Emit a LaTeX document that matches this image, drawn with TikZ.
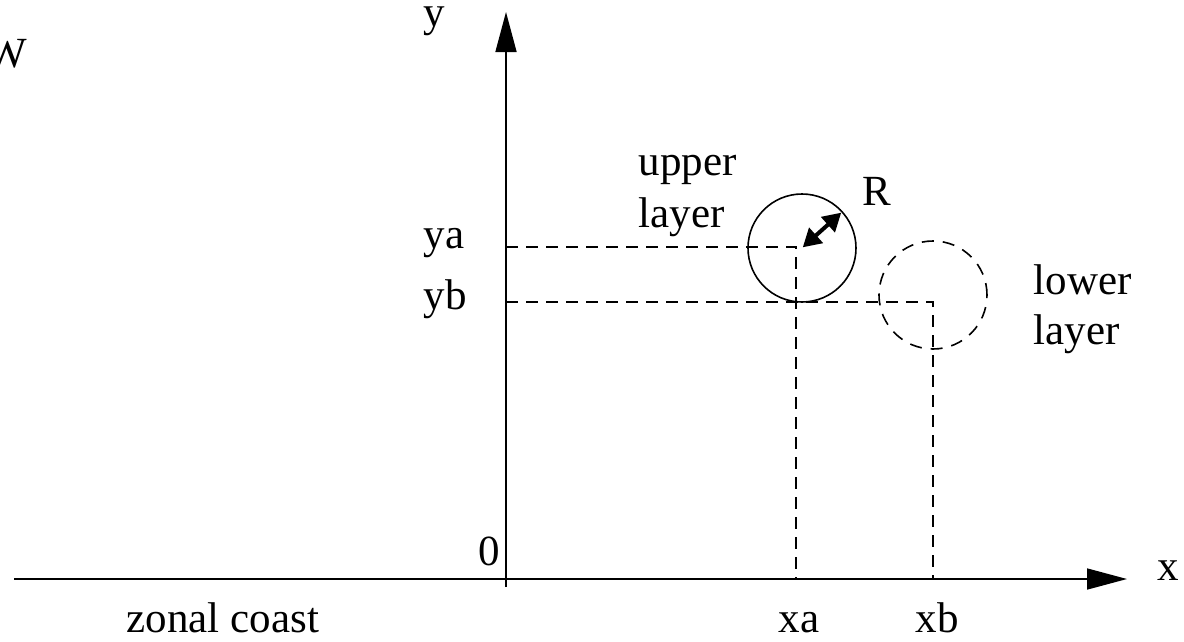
\documentclass[tikz,border=0pt]{standalone}
\usepackage{fontspec}
\setmainfont{Liberation Serif}
\usetikzlibrary{arrows.meta}
\begin{document}
\begin{tikzpicture}[x=1pt,y=-1pt, line width=1.6pt,
  lbl/.style={inner sep=0pt, anchor=base west, font=\fontsize{43}{50}\selectfont},
  axis/.style={-{Triangle[length=40pt,width=21pt]}},
  guide/.style={dash pattern=on 12pt off 8pt},
  ring/.style={circle, draw, inner sep=0pt, minimum size=108pt}]
\useasboundingbox (0,0) rectangle (1184,641);
% axes
\coordinate (xs) at (14,579);
\coordinate (xe) at (1127,579);
\coordinate (ys) at (506,587);
\coordinate (ye) at (506,12);
\draw[axis] (xs) -- (xe);
\draw[axis] (ys) -- (ye);
% guide lines
\coordinate (ya0) at (506,247);
\coordinate (pa) at (796,247);
\coordinate (xa0) at (796,579);
\coordinate (yb0) at (506,302);
\coordinate (pb) at (933,302);
\coordinate (xb0) at (933,579);
\draw[guide] (ya0) -- (pa) -- (xa0);
\draw[guide] (yb0) -- (pb) -- (xb0);
% circles
\node[ring] (up) at (802,248) {};
\node[ring, dash pattern=on 12pt off 9pt] (low) at (933,295) {};
\draw[{Triangle[length=18pt,width=20pt]}-{Triangle[length=18pt,width=20pt]}, line width=4pt, shorten <=1pt, shorten >=2pt] (up.center) -- (up.42);
% labels
\node[lbl] (ylab) at (423,26) {y};
\node[lbl, anchor=base east] (wlab) at (28,67) {W};
\node[lbl] (up1) at (638,175) {upper};
\node[lbl] (up2) at (638,227) {layer};
\node[lbl] (rlab) at (862,205) {R};
\node[lbl] (yalab) at (423,248) {ya};
\node[lbl] (yblab) at (423,309) {yb};
\node[lbl] (lo1) at (1033,294) {lower};
\node[lbl] (lo2) at (1033,344) {layer};
\node[lbl] (zero) at (478,565) {0};
\node[lbl] (xlab) at (1157,580) {x};
\node[lbl] (zc) at (126,632) {zonal coast};
\node[lbl] (xalab) at (778,632) {xa};
\node[lbl] (xblab) at (915,632) {xb};
\end{tikzpicture}
\end{document}
